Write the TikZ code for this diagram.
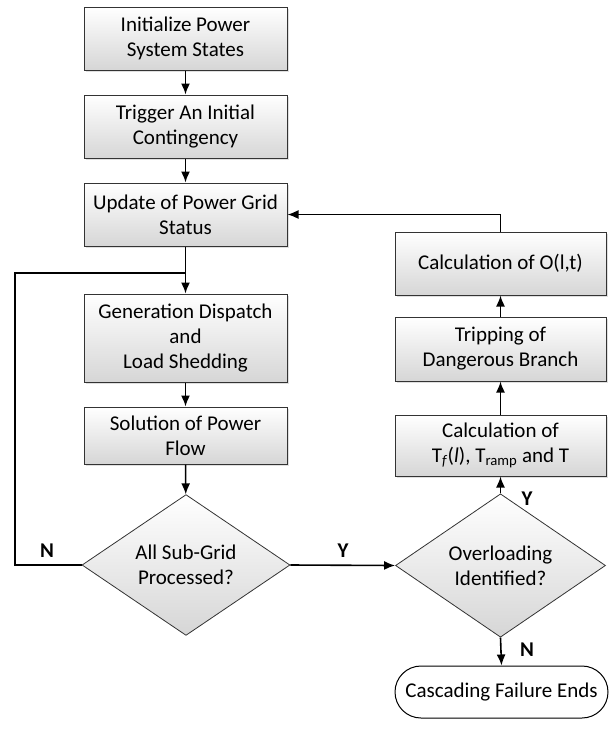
\documentclass[tikz,border=0pt]{standalone}
\usepackage{fontspec}
\setmainfont{Carlito}
\usetikzlibrary{shapes.geometric,arrows.meta,shadows}
\definecolor{boxbot}{RGB}{214,214,214}
\begin{document}
\begin{tikzpicture}[x=1pt,y=-1pt,
  font=\fontsize{21}{25}\selectfont,
  proc/.style={draw=black!80, line width=1pt, top color=white, bottom color=boxbot,
    minimum width=203pt, inner sep=0pt, align=center,
    drop shadow={opacity=0.25, shadow xshift=1.5pt, shadow yshift=-1.5pt}},
  dec/.style={diamond, draw=black!80, line width=0.8pt, top color=white, bottom color=boxbot,
    inner sep=0pt, align=center},
  term/.style={draw=black, line width=1pt, fill=white, rounded corners=26pt,
    minimum width=213pt, minimum height=52pt, inner sep=0pt, align=center},
  flow/.style={line width=1.6pt, -{Latex[length=11pt,width=9pt]}},
  wire/.style={line width=1.6pt},
  lbl/.style={font=\fontsize{21}{25}\selectfont\bfseries, inner sep=0pt}
]
\useasboundingbox (0,0) rectangle (610,729);

\node[proc, minimum height=63pt] (b1) at (185.5,38.5) {Initialize Power\\System States};
\node[proc, minimum height=63pt] (b2) at (185.5,126.5) {Trigger An Initial\\Contingency};
\node[proc, minimum height=63pt] (b3) at (185.5,214.5) {Update of Power Grid\\Status};
\node[proc, minimum height=88pt] (b4) at (185.5,338) {Generation Dispatch\\and\\Load Shedding};
\node[proc, minimum height=57pt] (b5) at (185.5,435.5) {Solution of Power\\Flow};
\node[dec, minimum width=208pt, minimum height=116pt] (d1) at (186,565) {All Sub-Grid\\Processed?};
\node[dec, minimum width=210pt, minimum height=115pt] (d2) at (500.5,565.5) {Overloading\\Identified?};
\node[proc, minimum width=211pt, minimum height=61pt] (r1) at (500.5,445.5)
  {Calculation of\\T\textsubscript{\textit{f}}(\textit{l}), T\textsubscript{ramp} and T};
\node[proc, minimum width=211pt, minimum height=64pt] (r2) at (500.5,349) {Tripping of\\Dangerous Branch};
\node[proc, minimum width=211pt, minimum height=63pt] (r3) at (500.5,263.5) {Calculation of O(l,t)};
\node[term] (t) at (501.5,692) {Cascading Failure Ends};

\coordinate (j) at (185.5,273);
\coordinate (lft) at (15,565);
\coordinate (up) at (500.5,214.5);

\draw[flow] (b1) -- (b2);
\draw[flow] (b2) -- (b3);
\draw[flow] (b3) -- (b4);
\draw[flow] (b4) -- (b5);
\draw[flow] (b5) -- (d1);
\draw[wire] (d1.west) -- (lft) |- (j);
\draw[flow] (d1.east) -- (d2.west);
\draw[flow] (d2.north) -- (r1.south);
\draw[flow] (r1) -- (r2);
\draw[flow] (r2) -- (r3);
\draw[flow] (r3.north) -- (up) -- (b3.east);
\draw[flow] (d2.south) -- (t.north);

\node[lbl] (ln) at (47,551) {N};
\node[lbl] (ly) at (343,551) {Y};
\node[lbl] (ly2) at (527,499) {Y};
\node[lbl] (ln2) at (527,650) {N};
\end{tikzpicture}
\end{document}
